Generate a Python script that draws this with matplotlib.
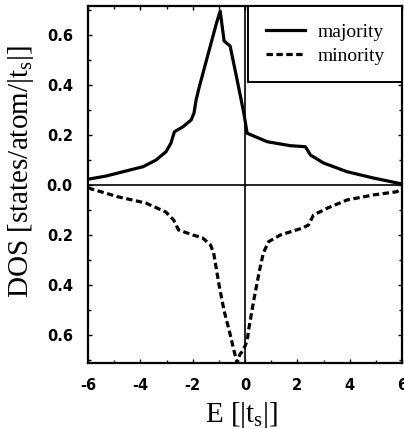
import numpy as np
import matplotlib
matplotlib.use('Agg')
import matplotlib.pyplot as plt
from matplotlib.ticker import MultipleLocator

# majority spin DOS
e_maj = [-6, -5.3, -4.55, -3.9, -3.4, -3.02, -2.83, -2.7, -2.37, -2.06, -1.95, -1.87, -1.76, -1.41,
         -1.1, -0.95, -0.8, -0.57, -0.27, -0.04, 0.08, 0.85, 1.74, 2.31, 2.5, 3.0, 3.9, 4.9, 6]
dos_maj = [0.023, 0.036, 0.056, 0.073, 0.1, 0.133, 0.168, 0.213, 0.233, 0.26, 0.288, 0.34, 0.388, 0.524,
           0.644, 0.696, 0.576, 0.556, 0.404, 0.284, 0.207, 0.173, 0.157, 0.153, 0.12, 0.088, 0.053, 0.028, 0.004]

# minority spin DOS (plotted downwards)
e_min = [-6, -4.83, -3.8, -3.03, -2.73, -2.54, -2.0, -1.62, -1.32, -1.2, -1.0, -0.8, -0.6, -0.42, -0.3,
         -0.19, -0.08, 0.08, 0.15, 0.35, 0.55, 0.7, 0.9, 1.35, 2.18, 2.43, 2.62, 3.14, 3.9, 4.9, 5.8, 6]
dos_min = [0.012, 0.048, 0.072, 0.108, 0.14, 0.18, 0.2, 0.212, 0.24, 0.272, 0.396, 0.504, 0.584, 0.664, 0.712,
           0.676, 0.664, 0.624, 0.572, 0.452, 0.344, 0.272, 0.227, 0.2, 0.173, 0.16, 0.12, 0.093, 0.06, 0.04, 0.027, 0.016]

yticks = [-0.6, -0.4, -0.2, 0.0, 0.2, 0.4, 0.6]
ytick_labels = ['0.6', '0.4', '0.2', '0.0', '0.2', '0.4', '0.6']
xticks = [-6, -4, -2, 0, 2, 4, 6]

plt.rcParams['mathtext.fontset'] = 'custom'
plt.rcParams['mathtext.rm'] = 'Liberation Serif'

fig = plt.figure(figsize=(4.04, 4.29), dpi=100)
ax = fig.add_axes([0.218, 0.154, 0.777, 0.832])

ax.axhline(0, color='black', lw=1.2)
ax.axvline(0, color='black', lw=1.2)
ax.plot(e_maj, dos_maj, color='black', lw=2.3, label='majority')
ax.plot(e_min, -np.array(dos_min), color='black', lw=2.3, ls=(0, (2, 1.1)), label='minority')

ax.set_xlim(-6, 6)
ax.set_ylim(-0.712, 0.716)
ax.set_xticks(xticks)
ax.set_xticklabels([str(t) for t in xticks])
ax.set_yticks(yticks)
ax.set_yticklabels(ytick_labels)
ax.xaxis.set_minor_locator(MultipleLocator(1))
ax.yaxis.set_minor_locator(MultipleLocator(0.1))
ax.tick_params(which='both', direction='in', top=True, right=True, pad=11, width=1)
ax.tick_params(which='major', length=3)
ax.tick_params(which='minor', length=2)
for lab in ax.get_xticklabels() + ax.get_yticklabels():
    lab.set_family('DejaVu Sans')
    lab.set_weight('bold')
    lab.set_size(10.5)
for sp in ax.spines.values():
    sp.set_linewidth(1.6)

ax.set_xlabel(r'E [|t$_\mathregular{s}$|]', family='Liberation Serif', fontsize=21)
ax.xaxis.set_label_coords(0.49, -0.105)
ax.xaxis.label.set_va('top')
ax.set_ylabel(r'DOS [states/atom/|t$_\mathregular{s}$|]', family='Liberation Serif', fontsize=21)
ax.yaxis.set_label_coords(-0.166, 0.535)

leg = ax.legend(loc='upper right', borderaxespad=0, fancybox=False, edgecolor='black',
                prop={'family': 'Liberation Serif', 'size': 14}, handlelength=2.0,
                handletextpad=0.65, labelspacing=0.3, borderpad=0.9)
leg.get_frame().set_linewidth(1.4)
leg.get_frame().set_alpha(1)

fig.savefig('out.png', dpi=100)
